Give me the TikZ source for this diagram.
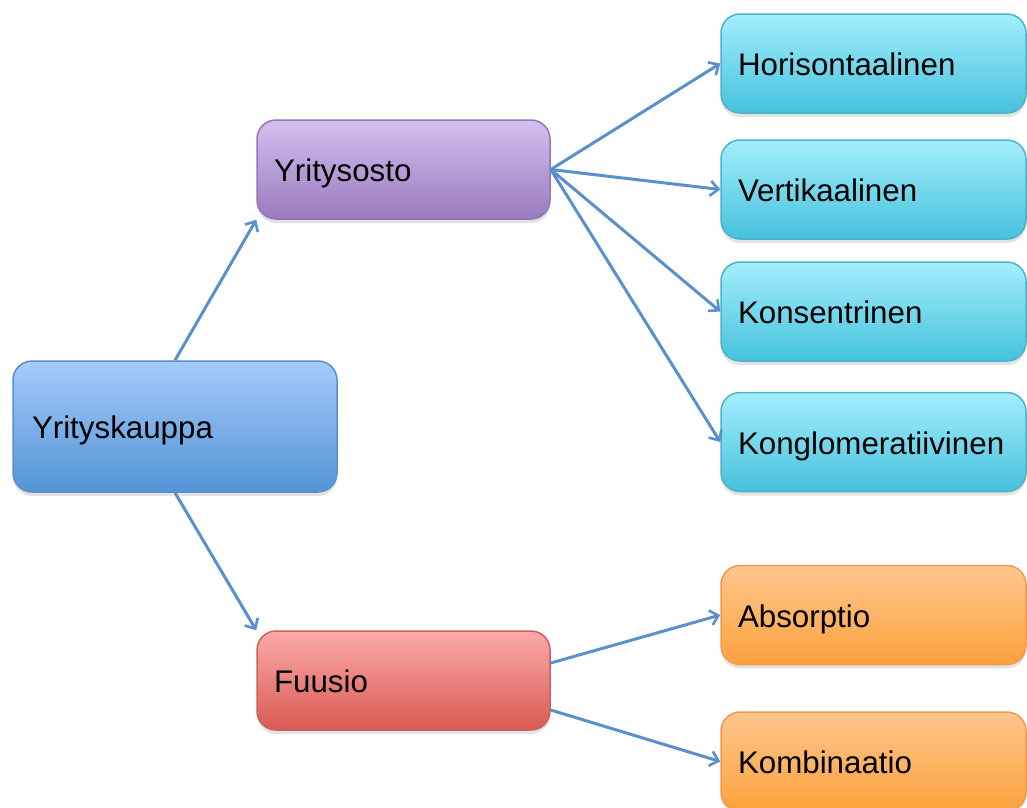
\documentclass[tikz,border=0pt]{standalone}
\usepackage{fontspec}
\setmainfont{Liberation Sans}
\usetikzlibrary{arrows.meta,shadows}
\definecolor{arr}{HTML}{5A90CC}
\definecolor{kTop}{HTML}{A6CBFA}\definecolor{kBot}{HTML}{5394D7}\definecolor{kDr}{HTML}{5B8FCB}
\definecolor{pTop}{HTML}{D4C0EF}\definecolor{pBot}{HTML}{9A7ABF}\definecolor{pDr}{HTML}{9476B8}
\definecolor{rTop}{HTML}{FBAAA8}\definecolor{rBot}{HTML}{DA5A53}\definecolor{rDr}{HTML}{C9615C}
\definecolor{cTop}{HTML}{A3EEFC}\definecolor{cBot}{HTML}{46C2DD}\definecolor{cDr}{HTML}{4DB2CC}
\definecolor{oTop}{HTML}{FFC68E}\definecolor{oBot}{HTML}{FBA23C}\definecolor{oDr}{HTML}{F39A48}
\tikzset{
  box/.style={rectangle, rounded corners=19pt, line width=1.5pt,
    minimum height=99pt, inner xsep=17pt, align=left,
    text height=24pt, text depth=0pt,
    font=\fontsize{31.3}{37}\selectfont,
    drop shadow={opacity=0.22, shadow xshift=0pt, shadow yshift=-4pt}},
  kbox/.style={box, draw=kDr, top color=kTop, bottom color=kBot},
  pbox/.style={box, draw=pDr, top color=pTop, bottom color=pBot},
  rbox/.style={box, draw=rDr, top color=rTop, bottom color=rBot},
  cbox/.style={box, draw=cDr, top color=cTop, bottom color=cBot},
  obox/.style={box, draw=oDr, top color=oTop, bottom color=oBot},
  midw/.style={minimum width=293pt, text width=259pt},
  rightw/.style={minimum width=305pt, text width=271pt},
  conn/.style={draw=arr, line width=3pt, -{Straight Barb[length=8pt,width=15pt,line width=2.6pt]}}
}
\begin{document}
\begin{tikzpicture}[x=1pt,y=-1pt]
\useasboundingbox[fill=white] (0,0) rectangle (1027,807);
\node[kbox, minimum width=324pt, minimum height=131pt, text width=286pt, inner xsep=19pt] (yk) at (175,426.5) {Yrityskauppa};
\node[pbox, midw] (yo) at (403.5,169.5) {Yritysosto};
\node[rbox, midw] (fu) at (403.5,680.5) {Fuusio};
\node[cbox, rightw] (ho) at (873.5,63.5) {Horisontaalinen};
\node[cbox, rightw] (ve) at (873.5,189.5) {Vertikaalinen};
\node[cbox, rightw] (ko) at (873.5,311.5) {Konsentrinen};
\node[cbox, rightw] (kg) at (873.5,442) {Konglomeratiivinen};
\node[obox, rightw] (ab) at (873.5,615) {Absorptio};
\node[obox, rightw] (kb) at (873.5,761.5) {Kombinaatio};
\draw[conn] (yk.north) -- (yo.south west);
\draw[conn] (yk.south) -- (fu.north west);
\draw[conn] (yo.east) -- (ho.west);
\draw[conn] (yo.east) -- (ve.west);
\draw[conn] (yo.east) -- (ko.west);
\draw[conn] (yo.east) -- (kg.west);
\draw[conn] ([yshift=17.5pt]fu.east) -- (ab.west);
\draw[conn] ([yshift=-29.5pt]fu.east) -- (kb.west);
\end{tikzpicture}
\end{document}
